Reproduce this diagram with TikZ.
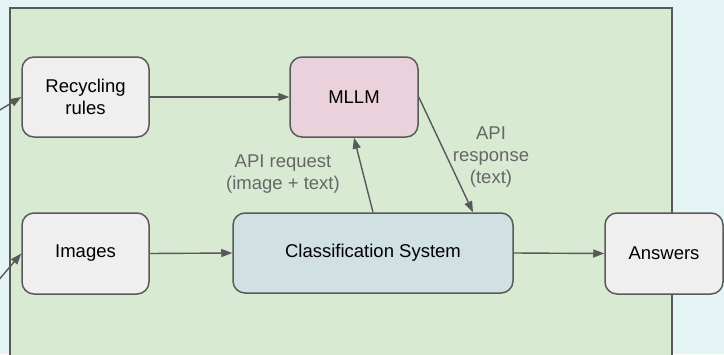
\documentclass[tikz,border=0pt]{standalone}
\usepackage{fontspec}
\setmainfont{Liberation Sans}
\usetikzlibrary{arrows.meta, positioning, calc}
\definecolor{skybg}{HTML}{E4F4F5}
\definecolor{leafbg}{HTML}{D9EAD3}
\definecolor{linegray}{HTML}{595959}
\definecolor{labelgray}{HTML}{666666}
\definecolor{boxgray}{HTML}{EFEFEF}
\definecolor{rosebox}{HTML}{EAD1DC}
\definecolor{steelbox}{HTML}{D0E0E3}

\begin{document}
\begin{tikzpicture}[
  x=1pt, y=-1pt,
  >={Triangle[length=11pt, width=8pt]},
  every node/.style={font=\fontsize{18.5}{22}\selectfont, text=black},
  stagebox/.style={rounded corners=12pt, draw=linegray, line width=1.5pt, align=center, inner sep=0pt},
  flow/.style={linegray, line width=1.4pt, ->},
  note/.style={text=labelgray, align=center},
]

% Background
\clip (0,0) rectangle (724,354);
\fill[skybg] (0,0) rectangle (724,354);

% Pipeline container
\draw[fill=leafbg, draw=linegray, line width=1.3pt] (10,8) rectangle (672,380);

% Inputs
\node[stagebox, fill=boxgray, minimum width=127pt, minimum height=80pt] (rules) at (85.5,97) {Recycling\\rules};
\node[stagebox, fill=boxgray, minimum width=127pt, minimum height=81pt] (images) at (85.5,253.5) {Images};

% Model and classifier
\node[stagebox, fill=rosebox, minimum width=128pt, minimum height=80pt] (mllm) at (354,97) {MLLM};
\node[stagebox, fill=steelbox, minimum width=280pt, minimum height=80pt] (cls) at (373,253) {Classification System};

% Output
\node[stagebox, fill=boxgray, minimum width=118pt, minimum height=81pt] (answers) at (664,253.5) {Answers};

% Incoming feeds from outside
\coordinate (rulesin) at (-20,122);
\coordinate (imagesin) at (-20,302);
\draw[flow] (rulesin) -- (rules.west);
\draw[flow] (imagesin) -- (images.west);

% Main flow
\draw[flow] (rules.east) -- (mllm.west);
\draw[flow] (images.east) -- (cls.west);
\draw[flow] (cls.east) -- (answers.west);

% API calls
\draw[flow] (cls.north) -- (mllm.south);
\draw[flow] (mllm.east) -- ([xshift=100pt]cls.north);

% Call labels
\node[note] (reqlabel) at (283,174) {API request\\(image + text)};
\node[note] (resplabel) at (491,157) {API\\response\\(text)};

\end{tikzpicture}
\end{document}
